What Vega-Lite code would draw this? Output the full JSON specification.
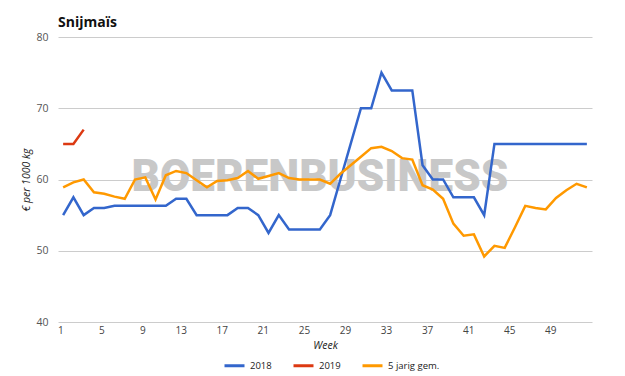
{
  "$schema": "https://vega.github.io/schema/vega-lite/v6.json",
  "width": 534,
  "height": 285,
  "autosize": {"type": "none"},
  "padding": {"left": 58, "top": 37, "right": 33, "bottom": 54},
  "background": "white",
  "config": {"font": "Open Sans", "view": {"stroke": null}},
  "title": {"text": "Snijmaïs", "anchor": "start", "frame": "group", "fontSize": 14, "fontWeight": "bold", "color": "#111111", "offset": 2},
  "datasets": {
    "watermark": [{"week": 26, "value": 58.45, "label": "BOERENBUSINESS"}],
    "prices": [
      {"week": 1, "series": "2018", "value": 55},
      {"week": 2, "series": "2018", "value": 57.5},
      {"week": 3, "series": "2018", "value": 55},
      {"week": 4, "series": "2018", "value": 56},
      {"week": 5, "series": "2018", "value": 56},
      {"week": 6, "series": "2018", "value": 56.3},
      {"week": 7, "series": "2018", "value": 56.3},
      {"week": 8, "series": "2018", "value": 56.3},
      {"week": 9, "series": "2018", "value": 56.3},
      {"week": 10, "series": "2018", "value": 56.3},
      {"week": 11, "series": "2018", "value": 56.3},
      {"week": 12, "series": "2018", "value": 57.3},
      {"week": 13, "series": "2018", "value": 57.3},
      {"week": 14, "series": "2018", "value": 55},
      {"week": 15, "series": "2018", "value": 55},
      {"week": 16, "series": "2018", "value": 55},
      {"week": 17, "series": "2018", "value": 55},
      {"week": 18, "series": "2018", "value": 56},
      {"week": 19, "series": "2018", "value": 56},
      {"week": 20, "series": "2018", "value": 55},
      {"week": 21, "series": "2018", "value": 52.5},
      {"week": 22, "series": "2018", "value": 55},
      {"week": 23, "series": "2018", "value": 53},
      {"week": 24, "series": "2018", "value": 53},
      {"week": 25, "series": "2018", "value": 53},
      {"week": 26, "series": "2018", "value": 53},
      {"week": 27, "series": "2018", "value": 55},
      {"week": 28, "series": "2018", "value": 60},
      {"week": 29, "series": "2018", "value": 65},
      {"week": 30, "series": "2018", "value": 70},
      {"week": 31, "series": "2018", "value": 70},
      {"week": 32, "series": "2018", "value": 75},
      {"week": 33, "series": "2018", "value": 72.5},
      {"week": 34, "series": "2018", "value": 72.5},
      {"week": 35, "series": "2018", "value": 72.5},
      {"week": 36, "series": "2018", "value": 62},
      {"week": 37, "series": "2018", "value": 60},
      {"week": 38, "series": "2018", "value": 60},
      {"week": 39, "series": "2018", "value": 57.5},
      {"week": 40, "series": "2018", "value": 57.5},
      {"week": 41, "series": "2018", "value": 57.5},
      {"week": 42, "series": "2018", "value": 55},
      {"week": 43, "series": "2018", "value": 65},
      {"week": 44, "series": "2018", "value": 65},
      {"week": 45, "series": "2018", "value": 65},
      {"week": 46, "series": "2018", "value": 65},
      {"week": 47, "series": "2018", "value": 65},
      {"week": 48, "series": "2018", "value": 65},
      {"week": 49, "series": "2018", "value": 65},
      {"week": 50, "series": "2018", "value": 65},
      {"week": 51, "series": "2018", "value": 65},
      {"week": 52, "series": "2018", "value": 65},
      {"week": 1, "series": "2019", "value": 65},
      {"week": 2, "series": "2019", "value": 65},
      {"week": 3, "series": "2019", "value": 67},
      {"week": 1, "series": "5 jarig gem.", "value": 58.9},
      {"week": 2, "series": "5 jarig gem.", "value": 59.6},
      {"week": 3, "series": "5 jarig gem.", "value": 60},
      {"week": 4, "series": "5 jarig gem.", "value": 58.2},
      {"week": 5, "series": "5 jarig gem.", "value": 58},
      {"week": 6, "series": "5 jarig gem.", "value": 57.6},
      {"week": 7, "series": "5 jarig gem.", "value": 57.3},
      {"week": 8, "series": "5 jarig gem.", "value": 60},
      {"week": 9, "series": "5 jarig gem.", "value": 60.3},
      {"week": 10, "series": "5 jarig gem.", "value": 57.2},
      {"week": 11, "series": "5 jarig gem.", "value": 60.6},
      {"week": 12, "series": "5 jarig gem.", "value": 61.2},
      {"week": 13, "series": "5 jarig gem.", "value": 60.9},
      {"week": 14, "series": "5 jarig gem.", "value": 59.9},
      {"week": 15, "series": "5 jarig gem.", "value": 58.9},
      {"week": 16, "series": "5 jarig gem.", "value": 59.8},
      {"week": 17, "series": "5 jarig gem.", "value": 59.9},
      {"week": 18, "series": "5 jarig gem.", "value": 60.2},
      {"week": 19, "series": "5 jarig gem.", "value": 61.2},
      {"week": 20, "series": "5 jarig gem.", "value": 60.1},
      {"week": 21, "series": "5 jarig gem.", "value": 60.5},
      {"week": 22, "series": "5 jarig gem.", "value": 60.9},
      {"week": 23, "series": "5 jarig gem.", "value": 60.2},
      {"week": 24, "series": "5 jarig gem.", "value": 60},
      {"week": 25, "series": "5 jarig gem.", "value": 60},
      {"week": 26, "series": "5 jarig gem.", "value": 60},
      {"week": 27, "series": "5 jarig gem.", "value": 59.4},
      {"week": 28, "series": "5 jarig gem.", "value": 60.8},
      {"week": 29, "series": "5 jarig gem.", "value": 62},
      {"week": 30, "series": "5 jarig gem.", "value": 63.2},
      {"week": 31, "series": "5 jarig gem.", "value": 64.4},
      {"week": 32, "series": "5 jarig gem.", "value": 64.6},
      {"week": 33, "series": "5 jarig gem.", "value": 64},
      {"week": 34, "series": "5 jarig gem.", "value": 63},
      {"week": 35, "series": "5 jarig gem.", "value": 62.8},
      {"week": 36, "series": "5 jarig gem.", "value": 59.2},
      {"week": 37, "series": "5 jarig gem.", "value": 58.6},
      {"week": 38, "series": "5 jarig gem.", "value": 57.3},
      {"week": 39, "series": "5 jarig gem.", "value": 53.8},
      {"week": 40, "series": "5 jarig gem.", "value": 52.1},
      {"week": 41, "series": "5 jarig gem.", "value": 52.3},
      {"week": 42, "series": "5 jarig gem.", "value": 49.2},
      {"week": 43, "series": "5 jarig gem.", "value": 50.7},
      {"week": 44, "series": "5 jarig gem.", "value": 50.4},
      {"week": 45, "series": "5 jarig gem.", "value": 53.3},
      {"week": 46, "series": "5 jarig gem.", "value": 56.3},
      {"week": 47, "series": "5 jarig gem.", "value": 56},
      {"week": 48, "series": "5 jarig gem.", "value": 55.8},
      {"week": 49, "series": "5 jarig gem.", "value": 57.4},
      {"week": 50, "series": "5 jarig gem.", "value": 58.5},
      {"week": 51, "series": "5 jarig gem.", "value": 59.4},
      {"week": 52, "series": "5 jarig gem.", "value": 58.9}
    ]
  },
  "layer": [
    {
      "data": {"name": "watermark"},
      "mark": {"type": "text", "font": "Roboto", "fontWeight": 900, "fontSize": 44, "color": "#c8c8c8", "baseline": "alphabetic", "align": "center"},
      "encoding": {
        "x": {"field": "week", "type": "ordinal"},
        "y": {"field": "value", "type": "quantitative"},
        "text": {"field": "label"}
      }
    },
    {
      "data": {"name": "prices"},
      "mark": {"type": "line", "strokeWidth": 2.5},
      "encoding": {
        "x": {
          "field": "week", "type": "ordinal",
          "scale": {"type": "point", "padding": 0.5},
          "axis": {"values": [1, 5, 9, 13, 17, 21, 25, 29, 33, 37, 41, 45, 49], "labelAngle": 0, "ticks": false, "domain": false, "grid": false, "labelPadding": 8, "labelFontSize": 10, "labelColor": "#444444", "title": "Week", "titleFontStyle": "italic", "titleFontWeight": "normal", "titleFontSize": 10.5, "titleColor": "#222222", "titlePadding": 5}
        },
        "y": {
          "field": "value", "type": "quantitative",
          "scale": {"domain": [40, 80], "nice": false, "zero": false},
          "axis": {"values": [40, 50, 60, 70, 80], "ticks": false, "domain": false, "grid": true, "gridColor": "#cccccc", "labelPadding": 10, "labelFontSize": 10.5, "labelColor": "#555555", "title": "€ per 1000 kg", "titleFontStyle": "italic", "titleFontWeight": "normal", "titleFontSize": 10.5, "titleColor": "#222222", "titlePadding": 4}
        },
        "color": {
          "field": "series", "type": "nominal",
          "scale": {"domain": ["2018", "2019", "5 jarig gem."], "range": ["#3366cc", "#dc3912", "#ff9900"]},
          "legend": {"orient": "none", "legendX": 165, "legendY": 317, "direction": "horizontal", "padding": 0, "title": null, "symbolType": "stroke", "symbolSize": 400, "symbolStrokeWidth": 3, "labelFontSize": 9.5, "labelColor": "#222222", "columnPadding": 15, "labelOffset": 4}
        }
      }
    }
  ]
}
